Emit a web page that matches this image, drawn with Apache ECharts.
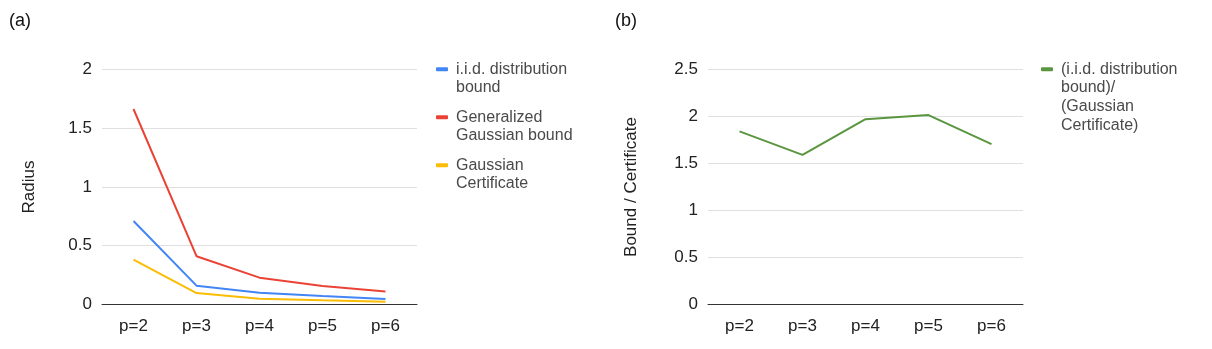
<!DOCTYPE html>
<html>
<head>
<meta charset="utf-8">
<title>Radius bounds</title>
<script src="https://cdn.jsdelivr.net/npm/echarts@6/dist/echarts.min.js"></script>
<style>
    html, body { margin: 0; padding: 0; background: #fff; }
    #chart { width: 1212px; height: 349px; }
</style>
</head>
<body>
<div id="chart"></div>
<script>
const categories = ['p=2', 'p=3', 'p=4', 'p=5', 'p=6'];

const iidBound = [0.71, 0.159, 0.099, 0.071, 0.045];
const genGaussBound = [1.665, 0.41, 0.227, 0.156, 0.11];
const gaussCert = [0.38, 0.096, 0.048, 0.034, 0.022];
const ratio = [1.843, 1.593, 1.973, 2.016, 1.707];

const leftTicks = { min: 0, max: 2, interval: 0.5 };
const rightTicks = { min: 0, max: 2.5, interval: 0.5 };

const font = '"Liberation Sans", Arial, sans-serif';
const LH = 18.6;

// legend labels wrapped like the original, blank lines on top keep the icon on the first line
const wrapped = {
    'i.i.d. distribution bound': '\ni.i.d. distribution\nbound',
    'Generalized Gaussian bound': '\nGeneralized\nGaussian bound',
    'Gaussian Certificate': '\nGaussian\nCertificate',
    '(i.i.d. distribution bound)/(Gaussian Certificate)': '\n\n\n(i.i.d. distribution\nbound)/\n(Gaussian\nCertificate)'
};

function legendFor(name, left, iconY, lines) {
    return {
        data: [name],
        left: left,
        top: iconY - lines * LH / 2,
        padding: 0,
        icon: 'roundRect',
        itemWidth: 12,
        itemHeight: 4,
        selectedMode: false,
        formatter: n => wrapped[n],
        textStyle: {
            fontFamily: font,
            fontSize: 16,
            lineHeight: LH,
            color: '#4a4a4a',
            padding: [0, 0, 0, 3]
        }
    };
}

function yAxisFor(gridIndex, ticks, name, gap) {
    return {
        type: 'value',
        gridIndex: gridIndex,
        min: ticks.min,
        max: ticks.max,
        interval: ticks.interval,
        name: name,
        nameLocation: 'middle',
        nameGap: gap,
        nameTextStyle: { fontFamily: font, fontSize: 17, color: '#222' },
        axisLine: { show: false },
        axisTick: { show: false },
        axisLabel: { fontFamily: font, fontSize: 17, color: '#222', margin: 10 },
        splitLine: { lineStyle: { color: '#e0e0e0', width: 1 } }
    };
}

function xAxisFor(gridIndex) {
    return {
        type: 'category',
        gridIndex: gridIndex,
        data: categories,
        boundaryGap: true,
        axisLine: { lineStyle: { color: '#333', width: 1 } },
        axisTick: { show: false },
        axisLabel: { fontFamily: font, fontSize: 17, color: '#222', margin: 14 }
    };
}

function lineSeries(name, data, color, idx) {
    return {
        name: name,
        type: 'line',
        data: data,
        xAxisIndex: idx,
        yAxisIndex: idx,
        symbol: 'none',
        color: color,
        lineStyle: { width: 2, color: color }
    };
}

const option = {
    animation: false,
    backgroundColor: '#fff',
    title: [
        { text: '(a)', left: 9, top: 11, padding: 0,
          textStyle: { fontFamily: font, fontSize: 18, fontWeight: 'normal', color: '#111', lineHeight: 20 } },
        { text: '(b)', left: 615, top: 11, padding: 0,
          textStyle: { fontFamily: font, fontSize: 18, fontWeight: 'normal', color: '#111', lineHeight: 20 } }
    ],
    grid: [
        { left: 102, top: 69.7, width: 315, height: 234.6 },
        { left: 708, top: 69.7, width: 315, height: 234.6 }
    ],
    legend: [
        legendFor('i.i.d. distribution bound', 436, 69.3, 3),
        legendFor('Generalized Gaussian bound', 436, 117.3, 3),
        legendFor('Gaussian Certificate', 436, 165.3, 3),
        legendFor('(i.i.d. distribution bound)/(Gaussian Certificate)', 1041, 69.3, 7)
    ],
    xAxis: [xAxisFor(0), xAxisFor(1)],
    yAxis: [
        yAxisFor(0, leftTicks, 'Radius', 64),
        yAxisFor(1, rightTicks, 'Bound / Certificate', 68)
    ],
    series: [
        lineSeries('i.i.d. distribution bound', iidBound, '#4285f4', 0),
        lineSeries('Generalized Gaussian bound', genGaussBound, '#ea4335', 0),
        lineSeries('Gaussian Certificate', gaussCert, '#fbbc04', 0),
        lineSeries('(i.i.d. distribution bound)/(Gaussian Certificate)', ratio, '#5a963f', 1)
    ]
};

const chart = echarts.init(document.getElementById('chart'), null, { renderer: 'canvas' });
chart.setOption(option);

window.addEventListener('resize', () => chart.resize());
</script>
</body>
</html>
